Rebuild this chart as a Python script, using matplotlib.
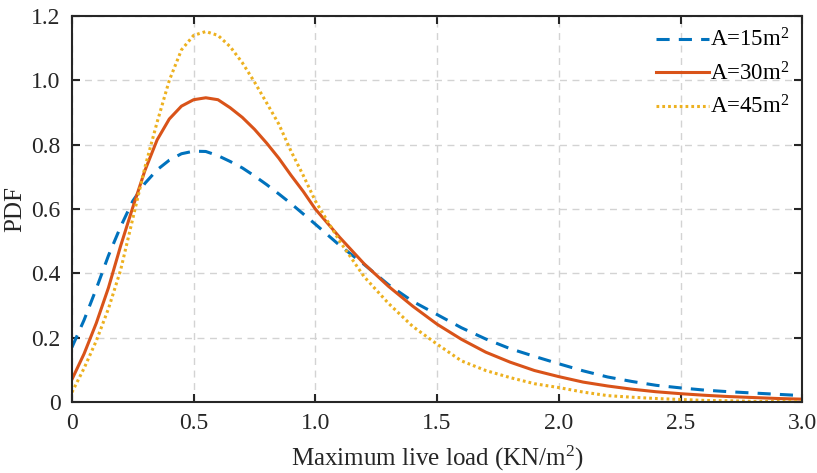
import matplotlib
matplotlib.use("Agg")
import matplotlib.pyplot as plt
import numpy as np
from matplotlib.ticker import FuncFormatter

# Valores
x = [0.00, 0.05, 0.10, 0.15, 0.20, 0.25, 0.30, 0.35, 0.40, 0.45,
     0.50, 0.55, 0.60, 0.65, 0.70, 0.75, 0.80, 0.85, 0.90, 0.95,
     1.00, 1.10, 1.20, 1.30, 1.40, 1.50, 1.60, 1.70, 1.80, 1.90,
     2.00, 2.10, 2.20, 2.30, 2.40, 2.50, 2.60, 2.70, 2.80, 2.90, 3.00]

pdf_15 = [0.170, 0.255, 0.352, 0.455, 0.545, 0.625, 0.680, 0.722, 0.752, 0.772,
          0.780, 0.779, 0.766, 0.748, 0.728, 0.703, 0.676, 0.647, 0.617, 0.585,
          0.553, 0.487, 0.428, 0.365, 0.313, 0.272, 0.231, 0.196, 0.166, 0.142,
          0.119, 0.097, 0.078, 0.064, 0.052, 0.044, 0.037, 0.032, 0.028, 0.024, 0.020]

pdf_30 = [0.070, 0.150, 0.245, 0.355, 0.485, 0.605, 0.720, 0.815, 0.880, 0.920,
          0.940, 0.946, 0.940, 0.915, 0.885, 0.848, 0.805, 0.758, 0.705, 0.655,
          0.600, 0.512, 0.430, 0.360, 0.298, 0.242, 0.195, 0.155, 0.124, 0.098,
          0.079, 0.062, 0.050, 0.040, 0.032, 0.026, 0.021, 0.017, 0.014, 0.011, 0.009]

pdf_45 = [0.030, 0.105, 0.190, 0.290, 0.410, 0.570, 0.730, 0.870, 1.000, 1.095,
          1.140, 1.152, 1.140, 1.105, 1.055, 0.995, 0.930, 0.864, 0.780, 0.705,
          0.625, 0.500, 0.390, 0.307, 0.235, 0.180, 0.128, 0.098, 0.076, 0.057,
          0.045, 0.031, 0.020, 0.015, 0.011, 0.008, 0.005, 0.004, 0.002, 0.002, 0.001]

labels = ['A=15m$^2$', 'A=30m$^2$', 'A=45m$^2$']
x_ticks = [0, 0.5, 1.0, 1.5, 2.0, 2.5, 3.0]
y_ticks = [0, 0.2, 0.4, 0.6, 0.8, 1.0, 1.2]

plt.rcParams['font.family'] = ['Liberation Serif', 'DejaVu Serif']
plt.rcParams['mathtext.fontset'] = 'custom'
plt.rcParams['mathtext.rm'] = 'Liberation Serif'
plt.rcParams['mathtext.it'] = 'Liberation Serif:italic'

fig = plt.figure(figsize=(8.17, 4.73), dpi=100)
ax = fig.add_axes([0.088, 0.150, 0.894, 0.816])

ax.plot(x, pdf_15, color='#0072BD', lw=2.2, ls=(0, (4.3, 3.0)), label=labels[0])
ax.plot(x, pdf_30, color='#D95319', lw=2.2, ls='-', label=labels[1])
ax.plot(x, pdf_45, color='#EDB120', lw=2.2, ls=(0, (0.9, 1.0)), label=labels[2])

ax.set_xlim(0, 3)
ax.set_ylim(0, 1.2)
ax.set_xticks(x_ticks)
ax.set_yticks(y_ticks)
fmt = FuncFormatter(lambda v, p: '0' if v == 0 else f'{v:.1f}')
ax.xaxis.set_major_formatter(fmt)
ax.yaxis.set_major_formatter(fmt)

ax.tick_params(direction='in', top=True, right=True, length=6, width=1.5,
               labelsize=17, colors='#262626', pad=8)
for s in ax.spines.values():
    s.set_linewidth(1.5)
    s.set_color('#262626')

ax.grid(True, color='#d3d3d3', ls=(0, (5, 4)), lw=1.0)
ax.set_axisbelow(True)

ax.set_xlabel('Maximum live load (KN/m$^2$)', fontsize=18, color='#262626', labelpad=7)
ax.set_ylabel('PDF', fontsize=18, color='#262626', labelpad=4)

ax.legend(loc='upper right', frameon=False, fontsize=16.5, handlelength=2.3,
          handletextpad=0.05, labelspacing=0.45, borderaxespad=0.15)

fig.savefig('out.png', dpi=100)
